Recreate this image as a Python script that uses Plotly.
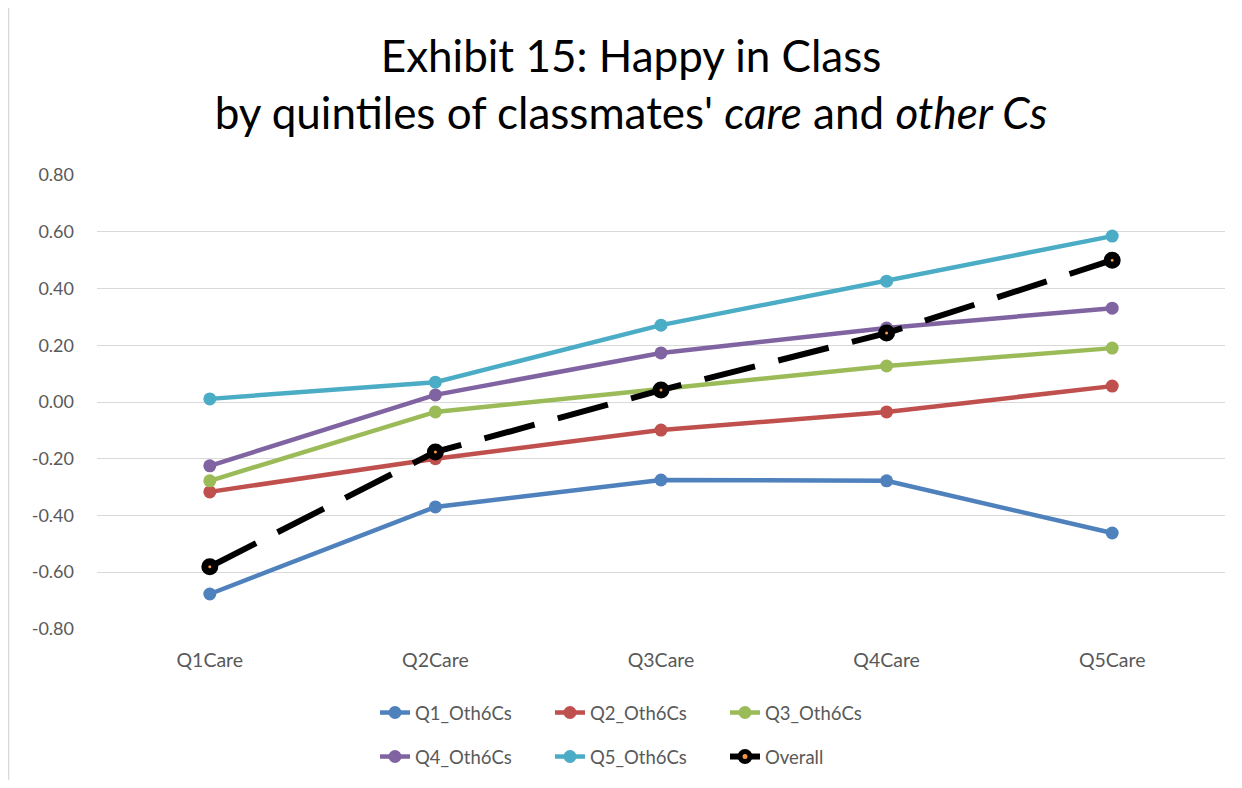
import plotly.graph_objects as go

# quintiles of classmates' care (x axis)
categories = ["Q1Care", "Q2Care", "Q3Care", "Q4Care", "Q5Care"]

# happy in class, by quintile of the other 6 Cs
q1_oth6cs = [-0.677, -0.370, -0.275, -0.278, -0.462]
q2_oth6cs = [-0.317, -0.200, -0.099, -0.035, 0.056]
q3_oth6cs = [-0.278, -0.035, 0.046, 0.127, 0.190]
q4_oth6cs = [-0.225, 0.025, 0.173, 0.261, 0.331]
q5_oth6cs = [0.011, 0.070, 0.271, 0.426, 0.585]
overall = [-0.581, -0.176, 0.042, 0.243, 0.500]

y_tick_values = [-0.8, -0.6, -0.4, -0.2, 0.0, 0.2, 0.4, 0.6, 0.8]
y_tick_labels = ["-0.80", "-0.60", "-0.40", "-0.20", "0.00", "0.20", "0.40", "0.60", "0.80"]

series_names = ["Q1_Oth6Cs", "Q2_Oth6Cs", "Q3_Oth6Cs", "Q4_Oth6Cs", "Q5_Oth6Cs"]
series_values = [q1_oth6cs, q2_oth6cs, q3_oth6cs, q4_oth6cs, q5_oth6cs]
series_colors = ["#4F81BD", "#C0504D", "#9BBB59", "#8064A2", "#4BACC6"]

FONT = "Lato, Calibri, sans-serif"
TXT = "#595959"
GRID = "#D9D9D9"

# page body has an 8px margin, so the figure is a bit smaller than the window
W, H = 1226, 772

fig = go.Figure()

for i, (name, vals, col) in enumerate(zip(series_names, series_values, series_colors)):
    fig.add_trace(go.Scatter(
        x=categories, y=vals, name=name, mode="lines+markers",
        line=dict(color=col, width=4.5),
        marker=dict(color=col, size=13),
        legend="legend" if i < 3 else "legend2",
    ))

fig.add_trace(go.Scatter(
    x=categories, y=overall, name="Overall", mode="lines+markers",
    line=dict(color="black", width=6, dash="52px,24px"),
    marker=dict(color="#F79646", size=10, line=dict(color="black", width=7)),
    legend="legend2",
))

legend_style = dict(
    orientation="h", xref="container", yref="container",
    xanchor="left", yanchor="middle", x=367 / W,
    font=dict(family=FONT, size=18.5, color=TXT),
    entrywidth=130, itemwidth=30, bgcolor="rgba(0,0,0,0)",
)

fig.update_layout(
    width=W, height=H,
    paper_bgcolor="white", plot_bgcolor="white",
    margin=dict(l=89, r=9, t=167, b=151),
    font=dict(family=FONT, color=TXT),
    title=dict(
        text="Exhibit 15: Happy in Class<br>by quintiles of classmates' <i>care</i> and <i>other Cs</i>",
        font=dict(family=FONT, size=44, color="black"),
        x=623 / W, xanchor="center", xref="container",
        y=1 - 64 / H, yanchor="top", yref="container",
    ),
    legend=dict(legend_style, y=1 - 705 / H),
    legend2=dict(legend_style, y=1 - 749 / H),
    xaxis=dict(
        type="category", range=[-0.5, 4.5],
        showgrid=False, showline=False, zeroline=False,
        tickfont=dict(family=FONT, size=19.5, color=TXT), ticklabelstandoff=17,
    ),
    yaxis=dict(
        range=[-0.8005, 0.8005], tickvals=y_tick_values, ticktext=y_tick_labels,
        showgrid=True, gridcolor=GRID, gridwidth=1.3,
        zeroline=True, zerolinecolor=GRID, zerolinewidth=1.3,
        showline=False,
        tickfont=dict(family=FONT, size=18, color=TXT), ticklabelstandoff=22,
    ),
    shapes=[dict(
        type="line", xref="paper", yref="paper",
        x0=(0 - 89) / 1128, x1=(0 - 89) / 1128, y0=-0.4, y1=1.4,
        line=dict(color=GRID, width=2.5),
    )],
)

fig.write_html("out.html")
